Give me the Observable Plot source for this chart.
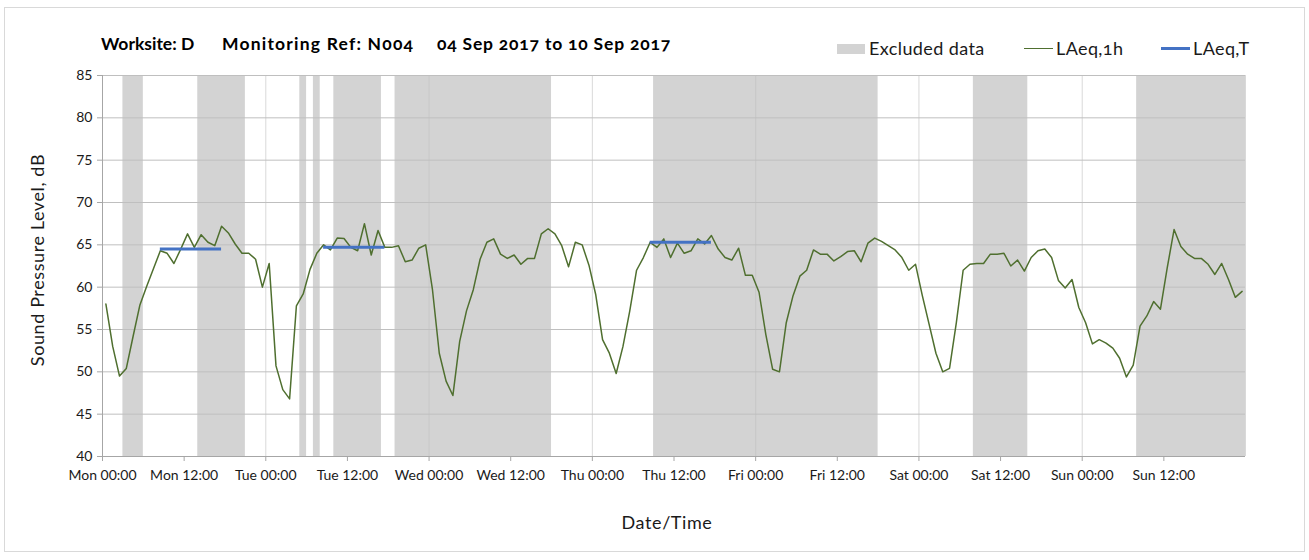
<!DOCTYPE html>
<html><head><meta charset="utf-8">
<script src="https://cdn.jsdelivr.net/npm/d3@7"></script>
<script src="https://cdn.jsdelivr.net/npm/@observablehq/plot@0.6"></script>
<style>
body{margin:0;background:#fff;font-family:Lato,"Open Sans",sans-serif;font-variant-numeric:oldstyle-nums;}
#wrap{position:relative;width:1309px;height:560px;overflow:hidden;background:#fff;}
#chart{position:absolute;left:0;top:0;}
#border{position:absolute;left:4px;top:7px;width:1301px;height:545px;border:1px solid #d9d9d9;box-sizing:border-box;pointer-events:none}
.t{position:absolute;white-space:nowrap;color:#000;line-height:1;}
.title{font-weight:bold;font-size:17.5px;top:35px;}
.leg{font-size:18px;top:39px;color:#1a1a1a;letter-spacing:0.4px}
.ax{font-size:18px;color:#1a1a1a;letter-spacing:0.6px}
</style></head>
<body>
<div id="wrap">
  <div id="chart"></div>
  <div id="border"></div>
  <div class="t title" style="left:101px">Worksite: D</div>
  <div class="t title" style="left:222px;letter-spacing:1.2px">Monitoring Ref: N004</div>
  <div class="t title" style="left:437px;letter-spacing:0.8px">04 Sep 2017 to 10 Sep 2017</div>
  <div style="position:absolute;left:837px;top:44px;width:28px;height:10px;background:#d3d3d3"></div>
  <div class="t leg" style="left:869px">Excluded data</div>
  <div style="position:absolute;left:1024px;top:47.5px;width:29px;height:1.5px;background:#4f6f2f"></div>
  <div class="t leg" style="left:1056px">LAeq,1h</div>
  <div style="position:absolute;left:1161px;top:47px;width:29px;height:3px;background:#4472c4"></div>
  <div class="t leg" style="left:1193px">LAeq,T</div>
  <div class="t ax" style="left:37px;top:260px;transform:translate(-50%,-50%) rotate(-90deg)">Sound Pressure Level, dB</div>
  <div class="t ax" style="left:667px;top:522px;transform:translate(-50%,-50%)">Date/Time</div>
</div>
<script>
// Hourly LAeq,1h values (dB), Mon 04 Sep 2017 00:00 onwards, one per hour
const laeq1h = [
  58.0, 53.0, 49.5, 50.4, 54.2, 57.9, 60.1, 62.2, 64.3, 64.0, 62.8, 64.5,
  66.3, 64.7, 66.2, 65.3, 64.9, 67.2, 66.4, 65.1, 64.0, 64.0, 63.3, 60.0,
  62.8, 50.7, 47.9, 46.8, 57.8, 59.2, 62.1, 64.0, 65.0, 64.4, 65.8, 65.75,
  64.7, 64.3, 67.5, 63.8, 66.7, 64.7, 64.7, 64.9, 63.0, 63.2, 64.6, 65.0,
  59.7, 52.2, 48.9, 47.2, 53.6, 57.2, 59.7, 63.3, 65.3, 65.7, 63.9, 63.4,
  63.8, 62.7, 63.4, 63.4, 66.3, 66.9, 66.3, 64.9, 62.4, 65.3, 65.0, 62.6,
  59.1, 53.8, 52.2, 49.8, 53.0, 57.2, 62.0, 63.5, 65.3, 64.7, 65.7, 63.5,
  65.2, 64.0, 64.3, 65.7, 65.1, 66.1, 64.5, 63.5, 63.2, 64.6, 61.4, 61.4,
  59.4, 54.4, 50.3, 50.0, 55.8, 59.0, 61.3, 62.0, 64.4, 63.9, 63.9, 63.1,
  63.6, 64.2, 64.3, 63.0, 65.2, 65.8, 65.4, 64.9, 64.4, 63.5, 62.0, 62.7,
  59.0, 55.6, 52.2, 50.0, 50.4, 55.8, 62.0, 62.7, 62.8, 62.8, 63.9, 63.9,
  64.0, 62.5, 63.2, 61.9, 63.5, 64.3, 64.5, 63.5, 60.8, 59.9, 60.9, 57.6,
  55.8, 53.3, 53.8, 53.4, 52.8, 51.6, 49.4, 50.8, 55.4, 56.6, 58.3, 57.4,
  62.3, 66.8, 64.8, 63.9, 63.4, 63.4, 62.7, 61.5, 62.8, 60.9, 58.8, 59.5
];
// Excluded data periods (hours from Mon 00:00)
const excludedStart = [3, 14, 29, 31, 34, 43, 81, 128, 152];
const excludedEnd   = [6, 21, 30, 32, 41, 66, 114, 136, 168];
// LAeq,T periods (first and last hour index) and levels
const laeqTFirst = [8, 32, 80];
const laeqTLast  = [17, 41, 89];
const laeqTValue = [64.5, 64.7, 65.3];
// Axis ticks
const xTickHours  = [0, 12, 24, 36, 48, 60, 72, 84, 96, 108, 120, 132, 144, 156];
const xTickLabels = ["Mon 00:00","Mon 12:00","Tue 00:00","Tue 12:00","Wed 00:00","Wed 12:00",
  "Thu 00:00","Thu 12:00","Fri 00:00","Fri 12:00","Sat 00:00","Sat 12:00","Sun 00:00","Sun 12:00"];
const dayGridHours = [0, 24, 48, 72, 96, 120, 144, 168];
const yTicks = [40, 45, 50, 55, 60, 65, 70, 75, 80, 85];

const series = laeq1h.map((v, i) => ({h: i + 0.5, v}));
const bands = excludedStart.map((s, i) => ({s, e: excludedEnd[i]}));
const laeqT = laeqTValue.map((v, i) => ({v, a: laeqTFirst[i] + 0.5, b: laeqTLast[i] + 0.5}));

const chart = Plot.plot({
  width: 1309, height: 560,
  marginLeft: 102, marginRight: 64, marginTop: 75, marginBottom: 104,
  style: {fontFamily: "Lato, 'Open Sans', sans-serif", fontSize: "14px", background: "transparent", fontVariantNumeric: "oldstyle-nums"},
  x: {domain: [0, 168]},
  y: {domain: [40, 85]},
  marks: [
    Plot.rect(bands, {x1: "s", x2: "e", fill: "#d3d3d3"}),
    Plot.gridY(yTicks, {stroke: "#bfbfbf", strokeOpacity: 1}),
    Plot.gridX(dayGridHours, {stroke: "#bfbfbf", strokeOpacity: 0.6}),
    Plot.ruleX([0], {stroke: "#a6a6a6"}),
    Plot.ruleY([40], {stroke: "#a6a6a6"}),
    Plot.axisY(yTicks, {tickSize: 5, tickPadding: 5, label: null, stroke: "#a6a6a6", fill: "#1a1a1a", tickFormat: d => String(d)}),
    Plot.axisX(xTickHours, {tickSize: 5, tickPadding: 9, label: null, stroke: "#a6a6a6", fill: "#1a1a1a", tickFormat: d => xTickLabels[xTickHours.indexOf(d)]}),
    Plot.line(series, {x: "h", y: "v", stroke: "#4f6f2f", strokeWidth: 1.5}),
    Plot.ruleY(laeqT, {y: "v", x1: "a", x2: "b", stroke: "#4472c4", strokeWidth: 3})
  ]
});
document.getElementById("chart").appendChild(chart);
</script>
</body></html>
